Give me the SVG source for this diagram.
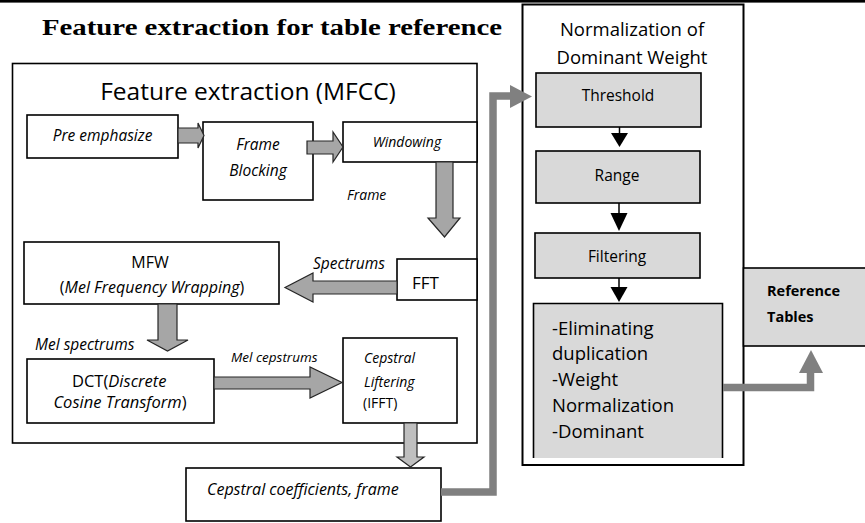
<svg xmlns="http://www.w3.org/2000/svg" width="865" height="523" viewBox="0 0 865 523">
<style>
.t{font-family:"Open Sans","Liberation Sans",sans-serif;fill:#000}
.i{font-style:italic}
.box{fill:#fff;stroke:#000;stroke-width:1.6}
.gbox{fill:#d9d9d9;stroke:#000;stroke-width:1.6}
.blk{fill:#a6a6a6;stroke:#262626;stroke-width:1.2;stroke-linejoin:miter}
.conn{fill:none;stroke:#808080;stroke-width:7.5}
.head{fill:#808080}
.thin{stroke:#000;stroke-width:1.5}
</style>
<rect x="0" y="0" width="865" height="2.6" fill="#000"/>
<text x="42" y="35" font-family="Liberation Serif, serif" font-weight="bold" font-size="23" textLength="460" lengthAdjust="spacingAndGlyphs">Feature extraction for table reference</text>

<g id="mfcc">
<rect x="12.5" y="63.5" width="464.5" height="379.5" fill="none" stroke="#000" stroke-width="1.6"/>
<text class="t" x="248" y="100" font-size="24.5" text-anchor="middle">Feature extraction (MFCC)</text>
</g>
<g id="pre">
<rect class="box" x="27" y="115" width="151" height="43"/>
<text class="t i" x="102.5" y="141" font-size="15.5" text-anchor="middle">Pre emphasize</text>
</g>
<g id="frameblock">
<rect class="box" x="203" y="122" width="110" height="78"/>
<text class="t i" x="258" y="150" font-size="15.5" text-anchor="middle">Frame</text>
<text class="t i" x="258" y="176" font-size="15.5" text-anchor="middle">Blocking</text>
</g>
<g id="windowing">
<rect class="box" x="343" y="122" width="134" height="40"/>
<text class="t i" x="407" y="147" font-size="14" text-anchor="middle">Windowing</text>
</g>
<g id="fft">
<rect class="box" x="397" y="259" width="80" height="41"/>
<text class="t" x="425.5" y="289" font-size="17" text-anchor="middle">FFT</text>
</g>
<g id="mfw">
<rect class="box" x="24" y="242" width="255" height="62"/>
<text class="t" x="150" y="268" font-size="16" text-anchor="middle">MFW</text>
<text class="t" x="152" y="293" font-size="16" text-anchor="middle">(<tspan class="i">Mel Frequency Wrapping</tspan>)</text>
</g>
<g id="dct">
<rect class="box" x="27" y="359" width="187" height="64"/>
<text class="t" x="72" y="387" font-size="16.5">DCT(<tspan class="i">Discrete</tspan></text>
<text class="t" x="120" y="408" font-size="16.5" text-anchor="middle"><tspan class="i">Cosine Transform</tspan>)</text>
</g>
<g id="lifter">
<rect class="box" x="343" y="338" width="114" height="85"/>
<text class="t i" x="364" y="363" font-size="14">Cepstral</text>
<text class="t i" x="364" y="387" font-size="14">Liftering</text>
<text class="t" x="363" y="408" font-size="14">(IFFT)</text>
</g>
<g id="coeff">
<rect class="box" x="186" y="468" width="255" height="53"/>
<text class="t i" x="207" y="495" font-size="16">Cepstral coefficients, frame</text>
</g>

<g id="norm">
<rect x="522.5" y="4.5" width="221" height="460.5" fill="none" stroke="#000" stroke-width="2"/>
<text class="t" x="632" y="36" font-size="18.5" text-anchor="middle">Normalization of</text>
<text class="t" x="632" y="64" font-size="18.5" text-anchor="middle">Dominant Weight</text>
</g>
<g id="threshold">
<rect class="gbox" x="536" y="73" width="165" height="54"/>
<text class="t" x="618" y="101" font-size="15.5" text-anchor="middle">Threshold</text>
</g>
<g id="range">
<rect class="gbox" x="536" y="151" width="164" height="52"/>
<text class="t" x="617" y="181" font-size="15.5" text-anchor="middle">Range</text>
</g>
<g id="filtering">
<rect class="gbox" x="535" y="233" width="165" height="45"/>
<text class="t" x="617" y="262" font-size="15.5" text-anchor="middle">Filtering</text>
</g>
<g id="elim">
<rect x="533" y="303" width="190" height="155" fill="#d9d9d9"/>
<path d="M533.5,458 V303.5 H722.5 V458" fill="none" stroke="#000" stroke-width="1.6"/>
<text class="t" x="552" y="335" font-size="18.5">-Eliminating</text>
<text class="t" x="552" y="360" font-size="18.5">duplication</text>
<text class="t" x="552" y="386" font-size="18.5">-Weight</text>
<text class="t" x="552" y="412" font-size="18.5">Normalization</text>
<text class="t" x="552" y="438" font-size="18.5">-Dominant</text>
</g>
<g id="reftables">
<rect class="gbox" x="743.5" y="268" width="125" height="78"/>
<text class="t" x="767" y="296" font-size="14.5" font-weight="bold">Reference</text>
<text class="t" x="767" y="322" font-size="14.5" font-weight="bold">Tables</text>
</g>

<g id="connectors">
<polygon class="blk" points="178,128 198,128 198,123 204,135.5 198,148 198,143 178,143"/>
<polygon class="blk" points="307,141 333,141 333,132 343,147 333,162 333,154 307,154"/>
<polygon class="blk" points="436,162 453,162 453,218 460,218 444.5,237 428,218 436,218"/>
<polygon class="blk" points="397,281 313,281 313,273 285,287.5 313,302 313,294 397,294"/>
<polygon class="blk" points="158,304 177,304 177,340 188,340 167.5,351 147,340 158,340"/>
<polygon class="blk" points="214,377 310,377 310,367 342,382.5 310,398 310,389 214,389"/>
<polygon class="blk" style="fill:#bfbfbf" points="404,423 417,423 417,457 424,457 410.5,467 397,457 404,457"/>
<polyline class="conn" points="441,492 493,492 493,96 511,96"/>
<polygon class="head" points="510,85 532,96.5 510,108"/>
<line class="thin" x1="619.5" y1="127" x2="619.5" y2="134"/>
<polygon points="611,133 628,133 619.5,147"/>
<line class="thin" x1="619" y1="203" x2="619" y2="214"/>
<polygon points="610.5,213 627.5,213 619,231"/>
<line class="thin" x1="619" y1="278" x2="619" y2="288"/>
<polygon points="610.5,287 627.5,287 619,302"/>
<polyline class="conn" points="723,387.5 810.5,387.5 810.5,372"/>
<polygon class="head" points="799,373 823,373 811,350"/>
</g>
<text class="t i" x="347" y="200" font-size="14">Frame</text>
<text class="t i" x="313" y="269" font-size="15.5">Spectrums</text>
<text class="t i" x="35" y="350" font-size="15.5">Mel spectrums</text>
<text class="t i" x="231" y="362" font-size="13.5">Mel cepstrums</text>
</svg>
